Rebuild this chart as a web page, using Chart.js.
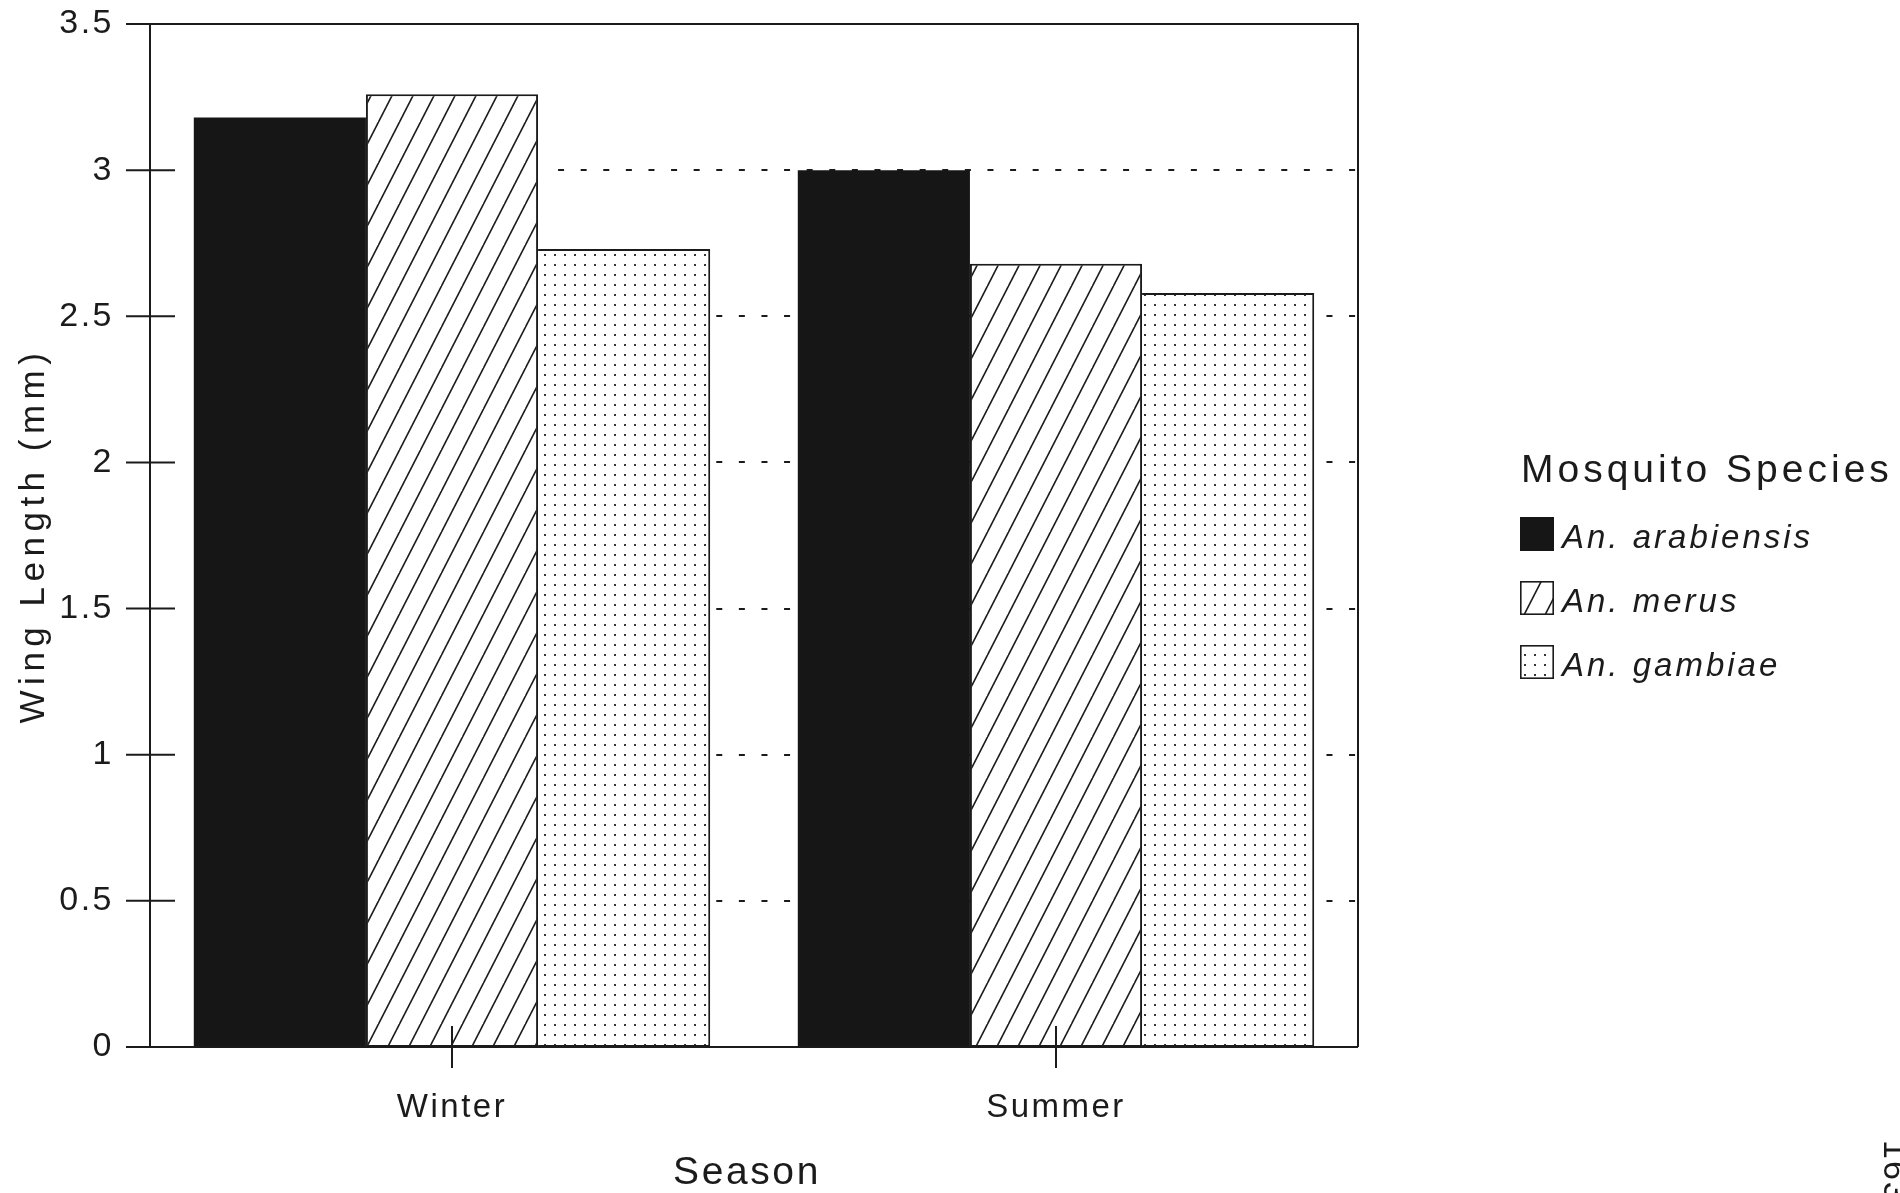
<!DOCTYPE html>
<html>
<head>
<meta charset="utf-8">
<title>Wing length by season</title>
<script src="https://cdn.jsdelivr.net/npm/chart.js@4.4.1/dist/chart.umd.min.js"></script>
<style>
  html, body { margin: 0; padding: 0; background: #fff; overflow: hidden; }
  canvas { display: block; }
</style>
</head>
<body>
<canvas id="wings" width="1900" height="1193"></canvas>
<script>
// Mean wing length (mm) of three Anopheles species, by season
const seasons = ['Winter', 'Summer'];
const speciesNames = ['An. arabiensis', 'An. merus', 'An. gambiae'];
const arabiensisWing = [3.18, 3.00];
const merusWing = [3.26, 2.68];
const gambiaeWing = [2.73, 2.58];
const yTickValues = [0, 0.5, 1, 1.5, 2, 2.5, 3, 3.5];
const yTickLabels = ['0', '0.5', '1', '1.5', '2', '2.5', '3', '3.5'];

const INK = '#1b1b1b';
const FONT = '"Liberation Sans", Arial, Helvetica, sans-serif';

// Diagonal "/" hatching on white
function hatchPattern() {
  const w = 21, h = 41;
  const c = document.createElement('canvas');
  c.width = w; c.height = h;
  const g = c.getContext('2d');
  g.fillStyle = '#fff';
  g.fillRect(0, 0, w, h);
  g.strokeStyle = INK;
  g.lineWidth = 1.6;
  for (let n = 0; n <= 2; n++) {
    const xAt = y => w * n - w * y / h;
    g.beginPath();
    g.moveTo(xAt(-4), -4);
    g.lineTo(xAt(h + 4), h + 4);
    g.stroke();
  }
  return g.createPattern(c, 'repeat');
}

// Fine dot screen on white
function dotPattern() {
  const s = 10;
  const c = document.createElement('canvas');
  c.width = s; c.height = s;
  const g = c.getContext('2d');
  g.fillStyle = '#fff';
  g.fillRect(0, 0, s, s);
  g.fillStyle = '#383838';
  g.fillRect(4, 4, 2, 2);
  return g.createPattern(c, 'repeat');
}

const fills = ['#161616', hatchPattern(), dotPattern()];
const skipped = [false, false, 'left'];

// Frame, dotted reference lines, tick marks, titles and legend
const frame = {
  id: 'frame',
  beforeDraw(chart) {
    const ctx = chart.ctx;
    ctx.save();
    ctx.fillStyle = '#fff';
    ctx.fillRect(0, 0, chart.width, chart.height);
    ctx.restore();
    ctx.letterSpacing = '2.5px';
  },
  beforeDatasetsDraw(chart) {
    const { ctx, chartArea, scales: { y } } = chart;
    const bar = chart.getDatasetMeta(1).data[0];
    const x0 = bar.x + bar.width / 2 + 20;
    ctx.save();
    ctx.strokeStyle = INK;
    ctx.lineWidth = 2;
    ctx.setLineDash([6, 16.6]);
    yTickValues.filter(v => v > y.min && v < y.max).forEach(v => {
      const py = Math.round(y.getPixelForValue(v));
      ctx.beginPath();
      ctx.moveTo(x0, py);
      ctx.lineTo(chartArea.right, py);
      ctx.stroke();
    });
    ctx.restore();
  },
  afterDatasetsDraw(chart) {
    const { ctx, chartArea: { left, right, top, bottom }, scales: { x, y } } = chart;
    ctx.save();
    ctx.strokeStyle = INK;
    ctx.lineWidth = 2;
    ctx.beginPath();
    ctx.moveTo(left, top); ctx.lineTo(left, bottom);
    ctx.moveTo(left - 24, top); ctx.lineTo(right, top); ctx.lineTo(right, bottom);
    ctx.moveTo(left - 24, bottom); ctx.lineTo(right, bottom);
    yTickValues.forEach(v => {
      const py = y.getPixelForValue(v);
      ctx.moveTo(left - 24, py); ctx.lineTo(left + 25, py);
    });
    seasons.forEach((s, i) => {
      const px = x.getPixelForTick(i);
      ctx.moveTo(px, bottom - 21); ctx.lineTo(px, bottom + 21);
    });
    ctx.stroke();
    ctx.restore();
  },
  afterDraw(chart) {
    const { ctx, chartArea } = chart;
    ctx.save();
    ctx.fillStyle = INK;

    // axis titles
    ctx.letterSpacing = '5.5px';
    ctx.font = '35px ' + FONT;
    ctx.textAlign = 'center';
    ctx.textBaseline = 'alphabetic';
    ctx.save();
    ctx.translate(44, (chartArea.top + chartArea.bottom) / 2);
    ctx.rotate(-Math.PI / 2);
    ctx.fillText('Wing Length (mm)', 0, 0);
    ctx.restore();

    ctx.letterSpacing = '2.6px';
    ctx.font = '39px ' + FONT;
    ctx.fillText('Season', 747, 1184);

    // legend
    ctx.textAlign = 'left';
    ctx.letterSpacing = '4px';
    ctx.font = '39px ' + FONT;
    ctx.fillText('Mosquito Species', 1521, 482);

    ctx.letterSpacing = '3px';
    ctx.font = 'italic 33px ' + FONT;
    const boxX = 1520, box = 34, rowTop = 517, rowStep = 64;
    chart.data.datasets.forEach((ds, i) => {
      const by = rowTop + i * rowStep;
      let fill = ds.backgroundColor;
      if (i === 1) {
        fill = hatchPattern();
        fill.setTransform(new DOMMatrix().translate(boxX + 4, by - 7));
      }
      ctx.fillStyle = fill;
      ctx.fillRect(boxX, by, box, box);
      if (i > 0) {
        ctx.strokeStyle = INK;
        ctx.lineWidth = 1.6;
        ctx.strokeRect(boxX + 0.8, by + 0.8, box - 1.6, box - 1.6);
      }
      ctx.fillStyle = INK;
      ctx.fillText(ds.label, 1562, by + 31);
    });

    // page number in the margin
    ctx.letterSpacing = '2px';
    ctx.font = '34px ' + FONT;
    ctx.save();
    ctx.translate(1884, 1140);
    ctx.rotate(Math.PI / 2);
    ctx.fillText('163', 0, 0);
    ctx.restore();

    ctx.restore();
  }
};

const series = [arabiensisWing, merusWing, gambiaeWing];

new Chart(document.getElementById('wings'), {
  type: 'bar',
  data: {
    labels: seasons,
    datasets: series.map((values, i) => ({
      label: speciesNames[i],
      data: values,
      backgroundColor: fills[i],
      borderColor: i === 0 ? fills[0] : INK,
      borderWidth: i === 0 ? 0 : 2,
      borderSkipped: skipped[i],
      categoryPercentage: 0.855,
      barPercentage: 1.0
    }))
  },
  options: {
    responsive: false,
    animation: false,
    events: [],
    layout: { padding: { left: 0, top: 24, right: 542, bottom: 0 } },
    plugins: {
      legend: { display: false },
      tooltip: { enabled: false }
    },
    scales: {
      x: {
        type: 'category',
        offset: true,
        grid: { display: false, drawTicks: false },
        border: { display: false },
        ticks: {
          color: INK,
          padding: 41,
          font: { family: FONT, size: 33 }
        },
        afterFit(scale) { scale.height = 146; }
      },
      y: {
        min: 0,
        max: 3.5,
        grid: { display: false, drawTicks: false },
        border: { display: false },
        afterBuildTicks(scale) {
          scale.ticks = yTickValues.map(v => ({ value: v }));
        },
        ticks: {
          color: INK,
          padding: 36,
          font: { family: FONT, size: 34 },
          callback: v => yTickLabels[yTickValues.indexOf(v)]
        },
        afterFit(scale) {
          scale.width = 150;
          scale.paddingTop = 0;
          scale.paddingBottom = 0;
        }
      }
    }
  },
  plugins: [frame]
});
</script>
</body>
</html>
